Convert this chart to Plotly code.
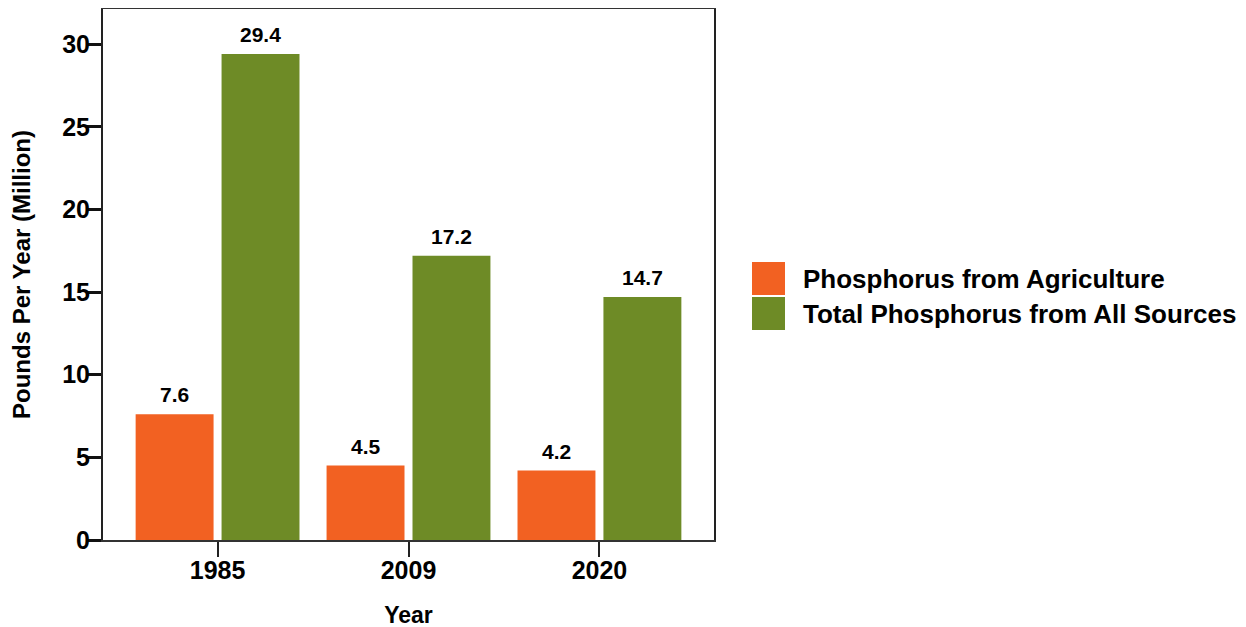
import plotly.graph_objects as go

years = ["1985", "2009", "2020"]
agriculture = [7.6, 4.5, 4.2]
total = [29.4, 17.2, 14.7]
series_names = ["Phosphorus from Agriculture", "Total Phosphorus from All Sources"]
colors = ["#F26122", "#6E8B26"]
y_ticks = [0, 5, 10, 15, 20, 25, 30]

FONT = "Liberation Sans, Arial, sans-serif"

# plot area in figure pixels (page has an 8px body margin)
L, R, T, B = 95, 540, 1, 95
W, H = 1246, 627
PW, PH = W - L - R, H - T - B


def px(fx):
    return (fx - L) / PW


def py(fy):
    return (H - B - fy) / PH


fig = go.Figure()
for name, vals, col in [(series_names[0], agriculture, colors[0]), (series_names[1], total, colors[1])]:
    fig.add_trace(go.Bar(x=years, y=vals, name=name, marker=dict(color=col, line=dict(width=0)),
                         showlegend=False))

# value labels
for i, y in enumerate(years):
    for vals, shift in [(agriculture, -0.225), (total, 0.225)]:
        fig.add_annotation(x=i + shift, y=vals[i], xref="x", yref="y", text=f"<b>{vals[i]}</b>",
                           showarrow=False, yanchor="bottom", yshift=6,
                           font=dict(family=FONT, size=21, color="black"))

# custom legend (big square swatches)
for k, (name, col) in enumerate(zip(series_names, colors)):
    top = 254 + k * 35
    fig.add_shape(type="rect", xref="paper", yref="paper",
                  x0=px(744), x1=px(777), y0=py(top + 33), y1=py(top),
                  fillcolor=col, line=dict(width=0))
    fig.add_annotation(xref="paper", yref="paper", x=px(793), y=py(top + 17),
                       xanchor="left", yanchor="middle", showarrow=False,
                       text=f"<b>{name}</b>", font=dict(family=FONT, size=26, color="black"))

fig.update_layout(
    width=W, height=H,
    margin=dict(l=L, r=R, t=T, b=B, autoexpand=False),
    paper_bgcolor="white", plot_bgcolor="white",
    barmode="group", bargap=0.1, bargroupgap=0.093,
    font=dict(family=FONT, color="black"),
    xaxis=dict(
        type="category", range=[-0.6, 2.6],
        showline=True, linecolor="#333333", linewidth=2, mirror=True,
        ticks="outside", ticklen=15, tickwidth=2, tickcolor="#222222",
        ticklabelstandoff=-8,
        tickvals=years, ticktext=[f"<b>{y}</b>" for y in years],
        tickfont=dict(family=FONT, size=25, color="black"),
        title=dict(text="<b>Year</b>", font=dict(family=FONT, size=23, color="black"), standoff=24),
        showgrid=False,
    ),
    yaxis=dict(
        range=[0, PH / 16.53],
        tickvals=y_ticks, ticktext=[f"<b>{v}</b>" for v in y_ticks],
        showline=True, linecolor="#222222", linewidth=2, mirror=True,
        ticks="outside", ticklen=15, tickwidth=3, tickcolor="#111111",
        ticklabelstandoff=-9,
        tickfont=dict(family=FONT, size=25, color="black"),
        title=dict(text="<b>Pounds Per Year (Million)</b>", font=dict(family=FONT, size=24, color="black"), standoff=25),
        showgrid=False, zeroline=False,
    ),
)

fig.write_html("out.html")
